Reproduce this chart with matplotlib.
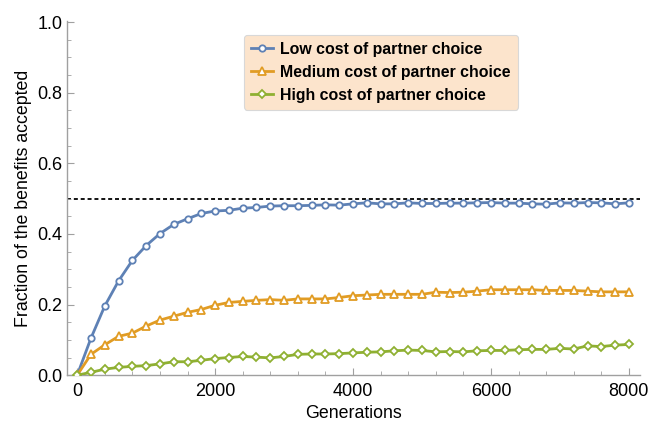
import matplotlib.pyplot as plt
import numpy as np
from matplotlib.ticker import MultipleLocator

plt.rcParams['font.family'] = ['Liberation Sans', 'DejaVu Sans']

# data, one point every 200 generations
generations = np.arange(0, 8001, 200)
low_cost = [0.0, 0.105, 0.196, 0.267, 0.325, 0.367, 0.401, 0.427, 0.443, 0.458,
            0.465, 0.467, 0.473, 0.475, 0.479, 0.480, 0.480, 0.481,
            0.4825, 0.4816, 0.4853, 0.4882, 0.4853, 0.4853, 0.4882, 0.4863, 0.4863,
            0.4873, 0.4873, 0.4882, 0.489, 0.4873, 0.4873, 0.4853, 0.4844, 0.4882,
            0.4873, 0.489, 0.4882, 0.4853, 0.4882]
medium_cost = [0.0, 0.059, 0.086, 0.110, 0.119, 0.139, 0.156, 0.167, 0.178, 0.186,
               0.198, 0.206, 0.209, 0.212, 0.214, 0.212, 0.216, 0.216,
               0.216, 0.220, 0.225, 0.227, 0.229, 0.229, 0.229, 0.229, 0.235,
               0.234, 0.235, 0.238, 0.242, 0.242, 0.242, 0.242, 0.240, 0.240,
               0.240, 0.238, 0.236, 0.236, 0.236]
high_cost = [0.0, 0.008, 0.017, 0.022, 0.025, 0.027, 0.032, 0.038, 0.038, 0.042,
             0.047, 0.050, 0.053, 0.051, 0.049, 0.053, 0.059, 0.060,
             0.060, 0.061, 0.063, 0.065, 0.066, 0.069, 0.071, 0.070, 0.066,
             0.067, 0.066, 0.069, 0.070, 0.070, 0.072, 0.073, 0.073, 0.076,
             0.074, 0.083, 0.081, 0.085, 0.087]
labels = ['Low cost of partner choice', 'Medium cost of partner choice',
          'High cost of partner choice']
threshold = 0.5

clrs = ['#5E81B5', '#E19C24', '#8FB032']
markers = ['o', '^', 'D']
msizes = [4.6, 5.2, 3.8]

fig = plt.figure(figsize=(6.49, 4.22), dpi=100)
ax = fig.add_axes([0.103, 0.111, 0.883, 0.839])

ax.axhline(threshold, color='black', linestyle=(0, (2.2, 1.6)), linewidth=1.3, zorder=1)

series = [low_cost, medium_cost, high_cost]
for ii in range(len(series)):
    ax.plot(generations, series[ii], color=clrs[ii], linewidth=2, marker=markers[ii],
            markersize=msizes[ii], markerfacecolor='white', markeredgecolor=clrs[ii],
            markeredgewidth=1.3, label=labels[ii], zorder=3)

ax.set_xlim(-150, 8160)
ax.set_ylim(0, 1.003)
ax.xaxis.set_major_locator(MultipleLocator(2000))
ax.xaxis.set_minor_locator(MultipleLocator(400))
ax.yaxis.set_major_locator(MultipleLocator(0.2))
ax.yaxis.set_minor_locator(MultipleLocator(0.05))
ax.yaxis.set_major_formatter(plt.FuncFormatter(lambda v, p: '%.1f' % v))

for s in ['top', 'right']:
    ax.spines[s].set_visible(False)
for s in ['left', 'bottom']:
    ax.spines[s].set_color('#A0A0A0')
    ax.spines[s].set_linewidth(1)
ax.tick_params(which='both', direction='in', color='#A0A0A0', labelsize=13,
               labelcolor='black')
ax.tick_params(which='major', length=5, pad=3)
ax.tick_params(axis='x', which='major', pad=6)
ax.tick_params(which='minor', length=3)

ax.set_xlabel('Generations', fontsize=12.8, labelpad=3)
ax.set_ylabel('Fraction of the benefits accepted', fontsize=12.8, labelpad=4)

leg = ax.legend(loc='upper left', bbox_to_anchor=(0.309, 0.962), borderaxespad=0,
                prop={'weight': 'bold', 'size': 11.4},
                fancybox=True, framealpha=1, facecolor='#FCE4CC', edgecolor='#D8D8D8',
                handlelength=1.4, handletextpad=0.45, labelspacing=0.5, borderpad=0.45)
leg.get_frame().set_linewidth(0.8)

fig.savefig('out.png', dpi=100)
